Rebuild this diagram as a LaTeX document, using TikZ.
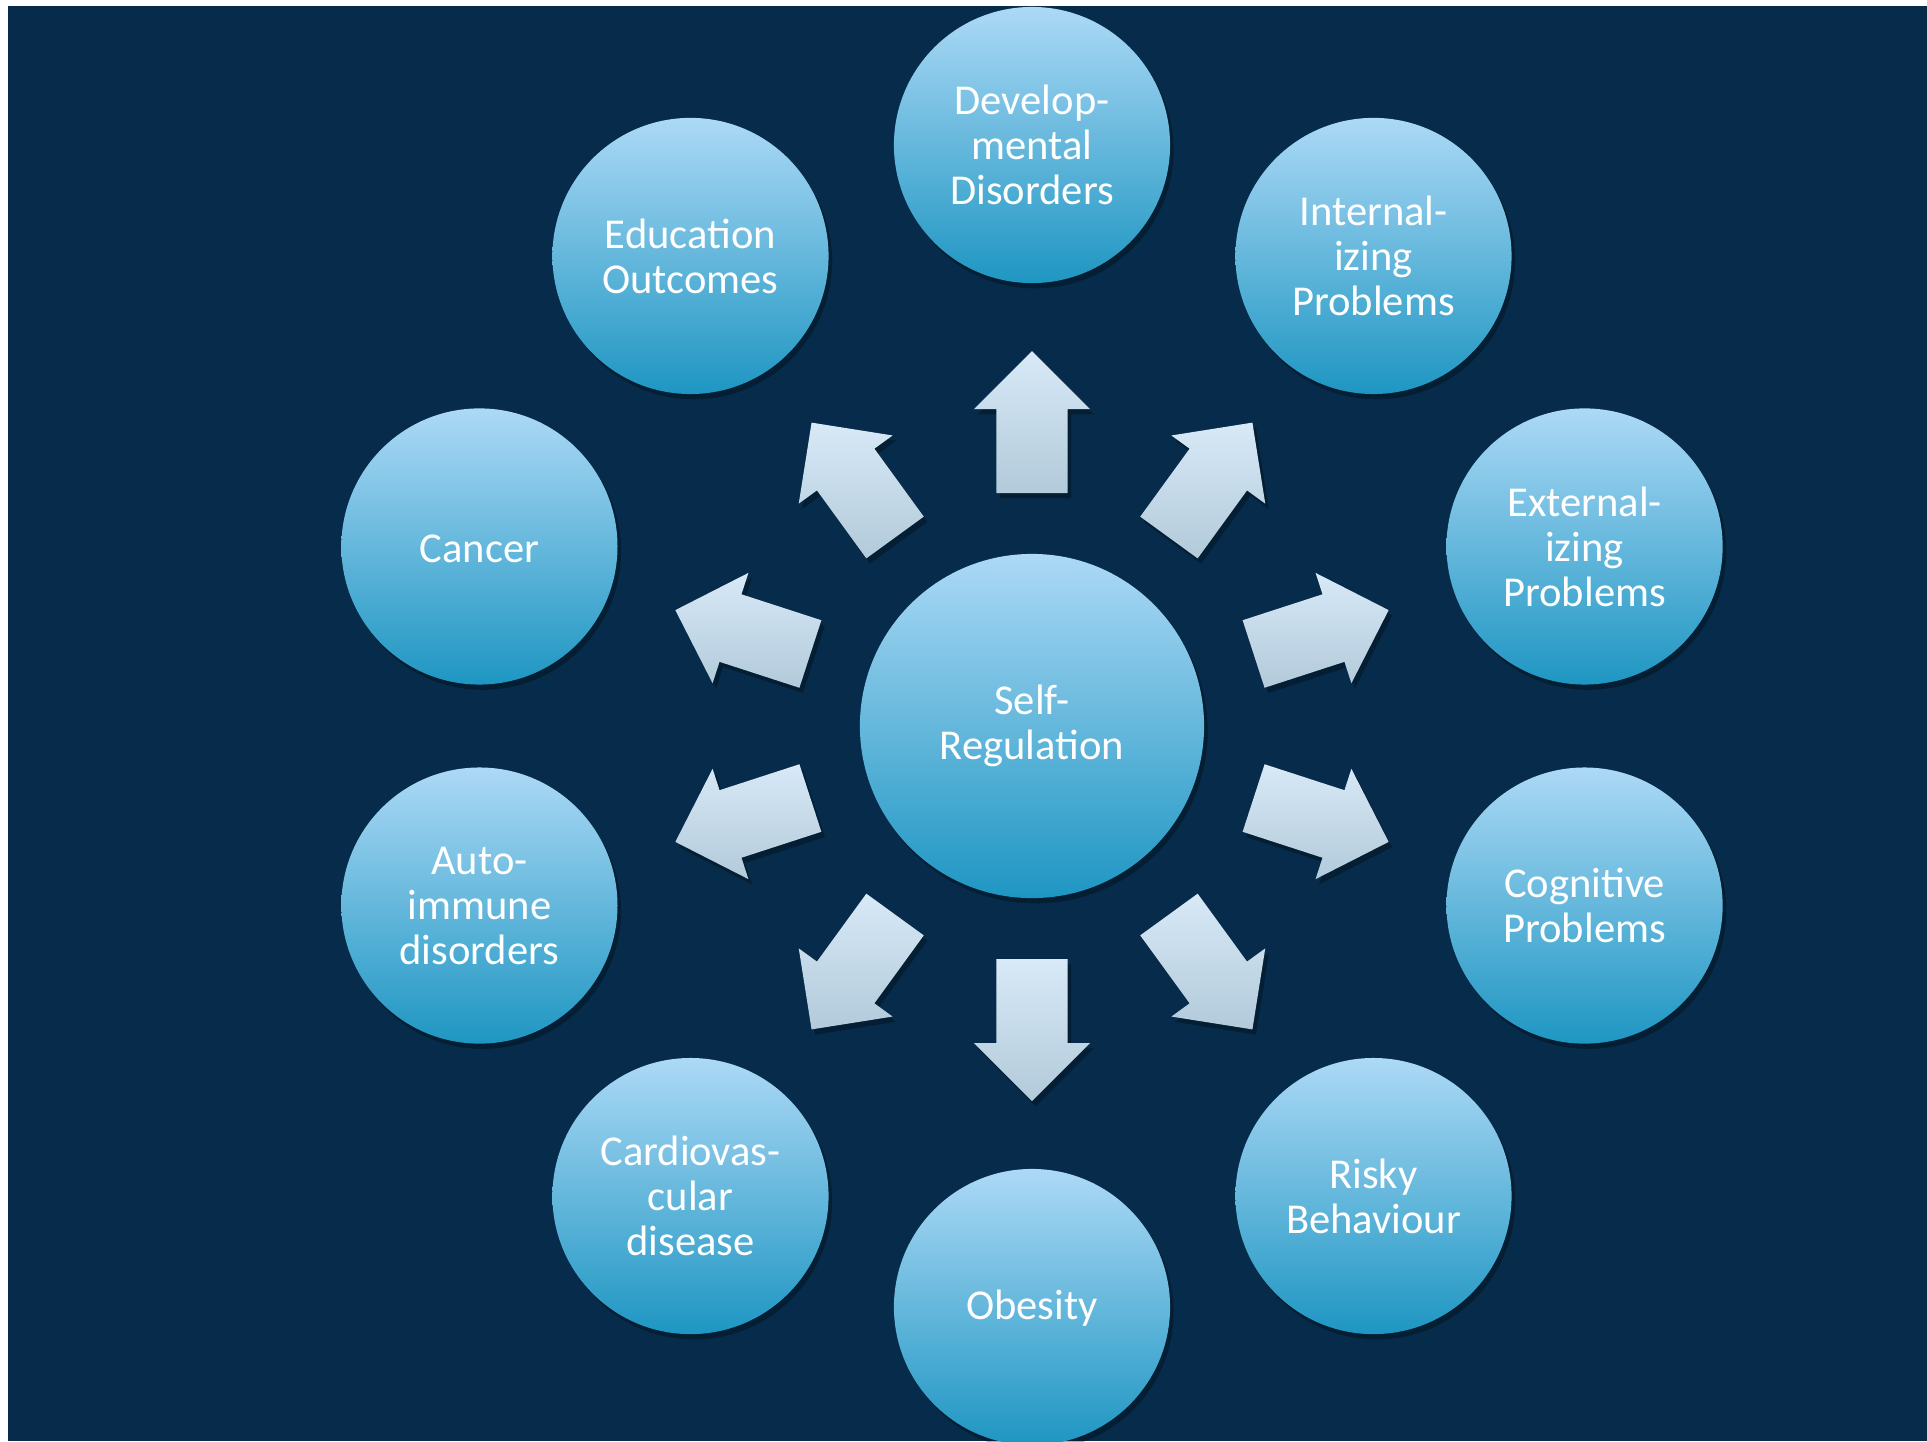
\documentclass[tikz,border=0pt]{standalone}
\usepackage{fontspec}
\setmainfont{Carlito}
\usetikzlibrary{shadows}
\definecolor{bgnavy}{RGB}{7,43,74}
\definecolor{balltop}{RGB}{172,217,246}
\definecolor{ballbot}{RGB}{30,150,194}
\definecolor{arrowtop}{RGB}{216,233,247}
\definecolor{arrowbot}{RGB}{178,202,218}
\begin{document}
\begin{tikzpicture}[x=0.01cm, y=0.01cm,
        every node/.style={circle, align=center, text=white, inner sep=0pt,
            font=\fontsize{12.1}{12.8}\selectfont,
            execute at begin node={\rule{0pt}{9pt}}},
        ball/.style={top color=balltop, bottom color=ballbot, draw=none,
            drop shadow={shadow xshift=1pt, shadow yshift=-1.5pt, opacity=0.3, fill=black}},
        outer/.style={ball, minimum size=2.76cm},
        arrowfill/.style={top color=arrowtop, bottom color=arrowbot, draw=none,
            drop shadow={shadow xshift=1pt, shadow yshift=-1.5pt, opacity=0.3, fill=black}},
        outarrow/.pic={\path[arrowfill] (233,-35.5) -- (317,-35.5) -- (317,-58) -- (375,0)
            -- (317,58) -- (317,35.5) -- (233,35.5) -- cycle;}]
    \useasboundingbox (-1032,-715) rectangle (895,726);
    \fill[bgnavy] (-1024,-715) rectangle (895,720);
    % arrows out of the hub
    \pic[rotate=90] at (0,0) {outarrow};
    \pic[rotate=54] at (0,0) {outarrow};
    \pic[rotate=18] at (0,0) {outarrow};
    \pic[rotate=-18] at (0,0) {outarrow};
    \pic[rotate=-54] at (0,0) {outarrow};
    \pic[rotate=-90] at (0,0) {outarrow};
    \pic[rotate=-126] at (0,0) {outarrow};
    \pic[rotate=-162] at (0,0) {outarrow};
    \pic[rotate=162] at (0,0) {outarrow};
    \pic[rotate=126] at (0,0) {outarrow};
    % hub and outcomes
    \node[ball, minimum size=3.44cm] (selfreg) at (0,0) {Self-\\Regulation};
    \node[outer] (devel) at (90:581) {Develop-\\mental\\Disorders};
    \node[outer] (intern) at (54:581) {Internal-\\izing\\Problems};
    \node[outer] (extern) at (18:581) {External-\\izing\\Problems};
    \node[outer] (cognit) at (-18:581) {Cognitive\\Problems};
    \node[outer] (risky) at (-54:581) {Risky\\Behaviour};
    \node[outer] (obesity) at (-90:581) {Obesity};
    \node[outer] (cardio) at (-126:581) {Cardiovas-\\cular\\disease};
    \node[outer] (autoimm) at (-162:581) {Auto-\\immune\\disorders};
    \node[outer] (cancer) at (162:581) {Cancer};
    \node[outer] (educ) at (126:581) {Education\\Outcomes};
\end{tikzpicture}
\end{document}
